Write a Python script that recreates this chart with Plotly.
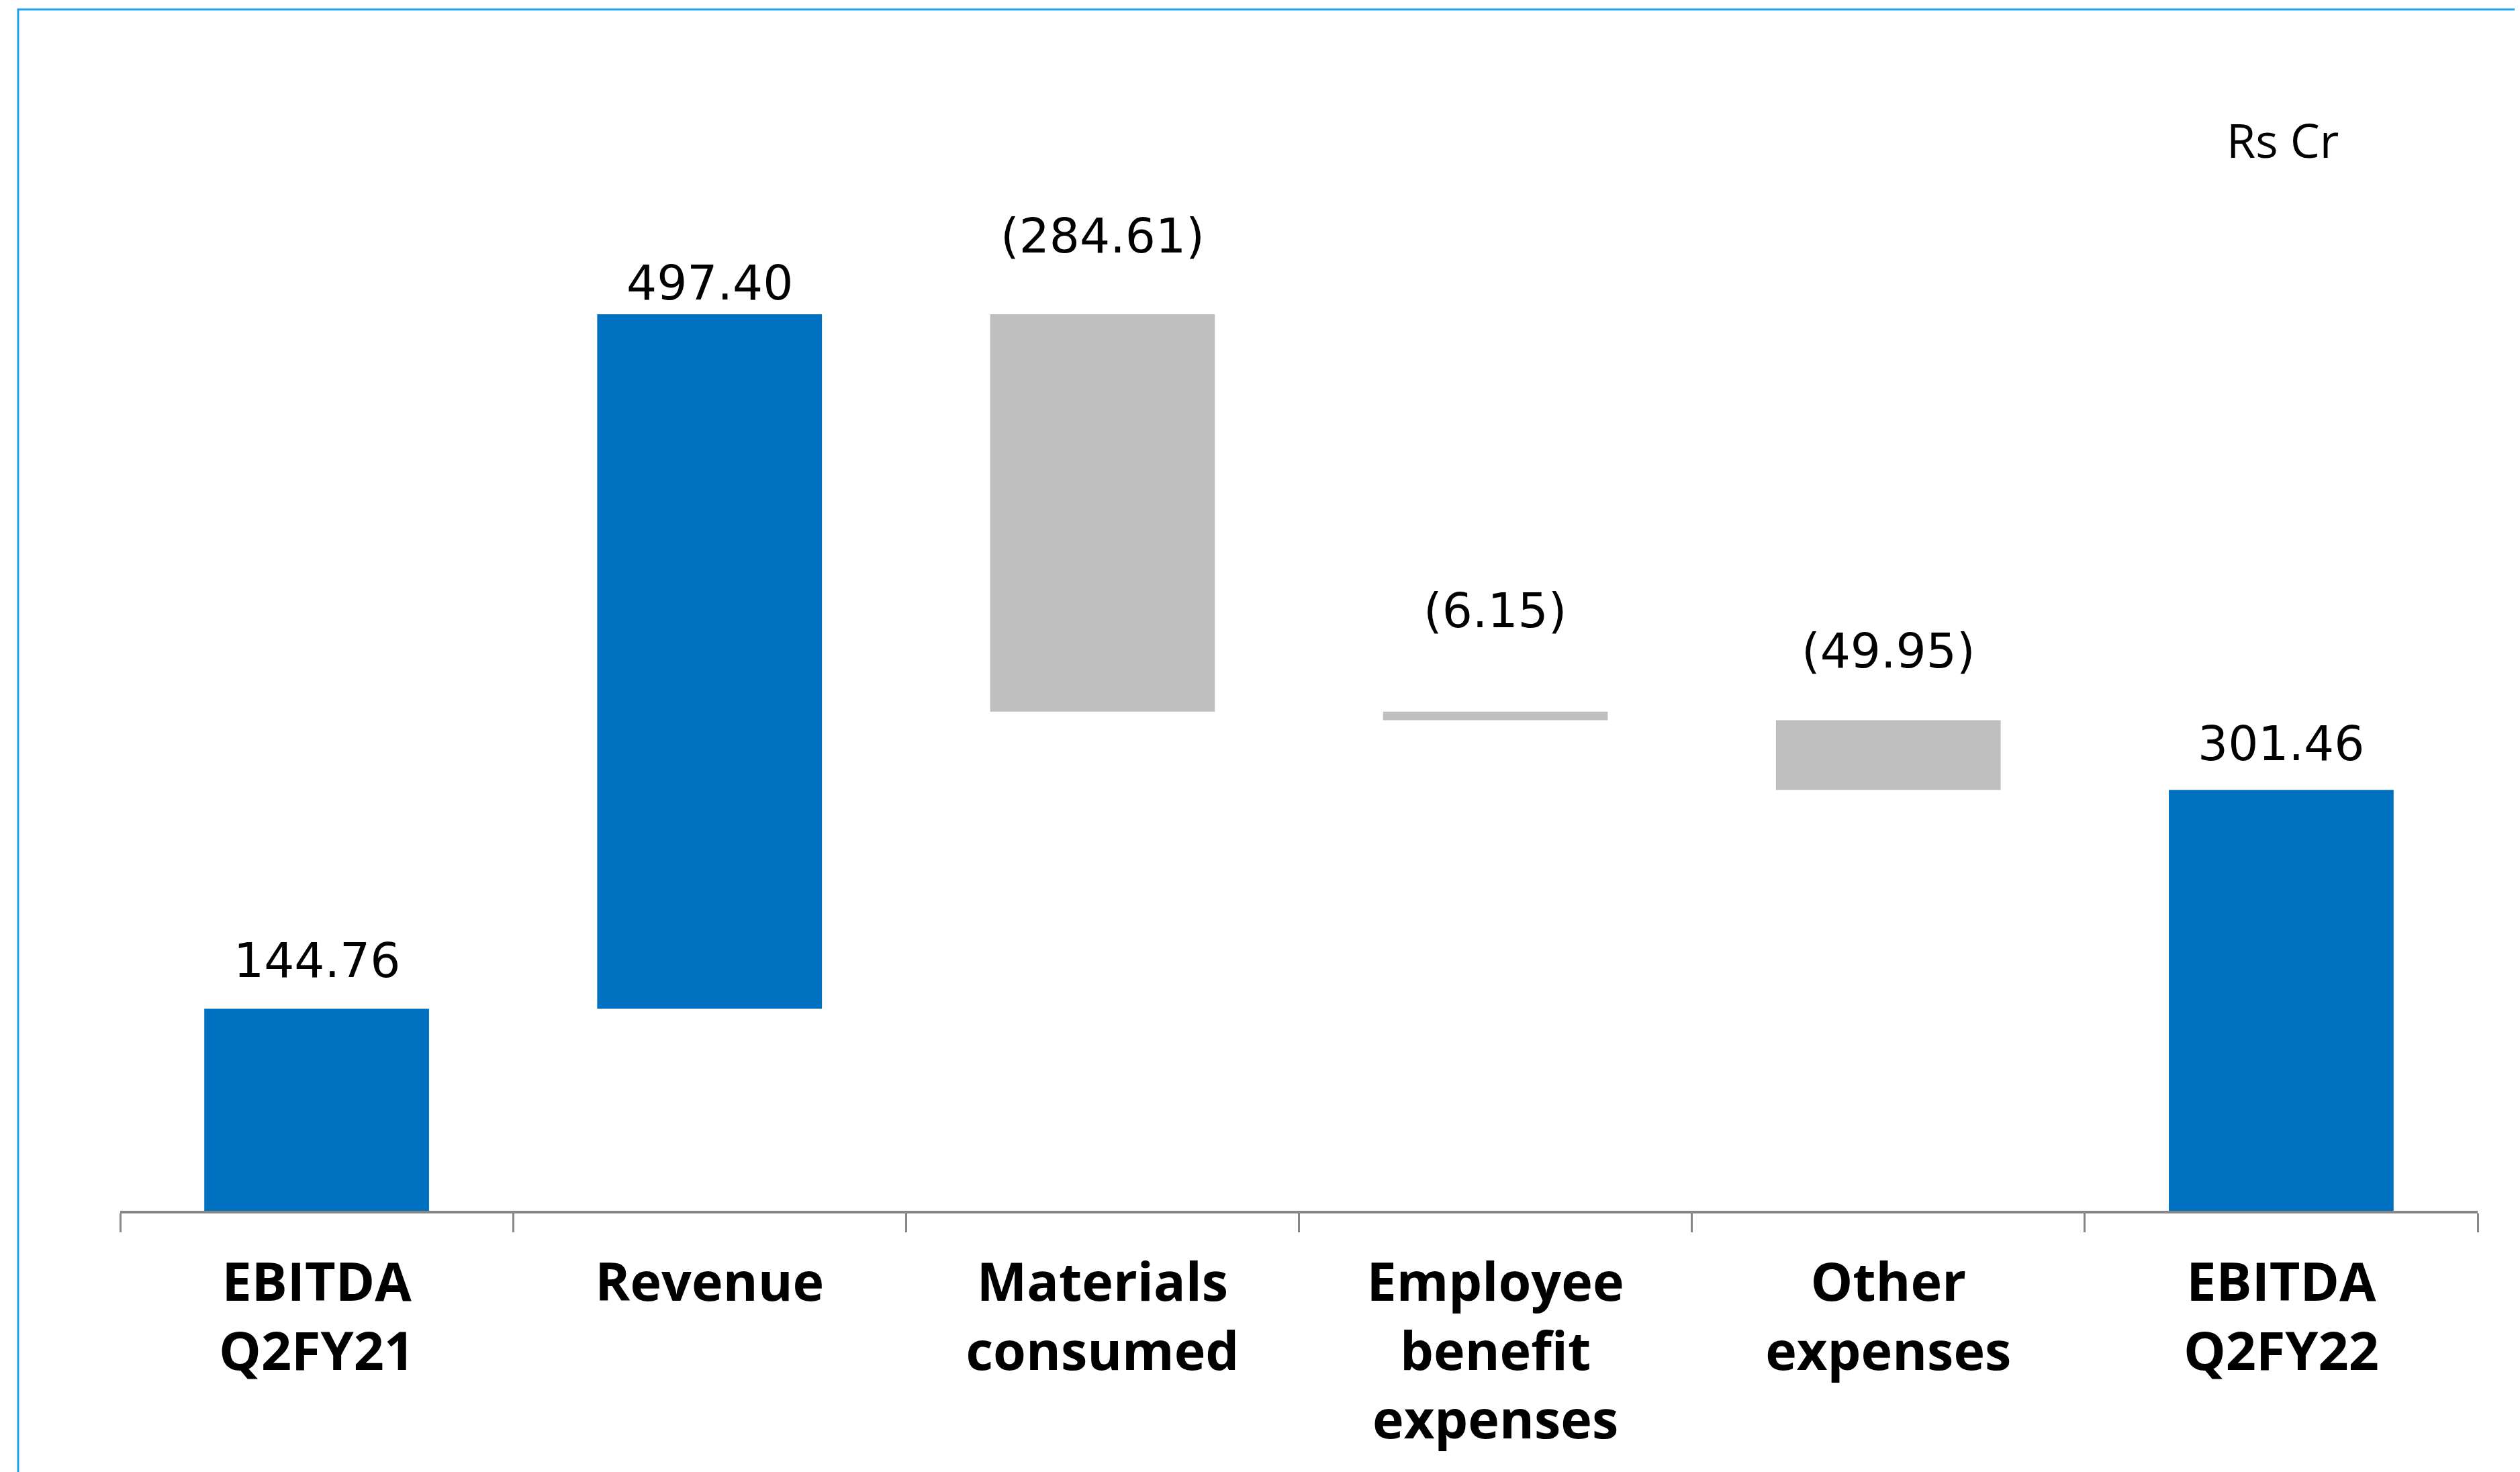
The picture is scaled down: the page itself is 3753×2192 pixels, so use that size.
import plotly.graph_objects as go

# ---- data ----
categories = ["EBITDA<br>Q2FY21", "Revenue", "Materials<br>consumed",
              "Employee<br>benefit<br>expenses", "Other<br>expenses", "EBITDA<br>Q2FY22"]
values = [144.76, 497.40, -284.61, -6.15, -49.95, 301.46]
measures = ["absolute", "relative", "relative", "relative", "relative", "absolute"]
value_labels = ["144.76", "497.40", "(284.61)", "(6.15)", "(49.95)", "301.46"]
unit_label = "Rs Cr"

# ---- style ----
BLUE = "#0070C0"
GREY = "#BFBFBF"
label_offsets_px = [72, 47, 117, 150, 103, 69]

# compute waterfall bases/heights from the values
bases, heights, colors, tops = [], [], [], []
running = 0.0
for v, m in zip(values, measures):
    if m == "absolute":
        start, end = 0.0, v
        running = v
        colors.append(BLUE)
    else:
        start, end = running, running + v
        running = end
        colors.append(BLUE if v >= 0 else GREY)
    bases.append(min(start, end))
    heights.append(abs(end - start))
    tops.append(max(start, end))

fig = go.Figure()
fig.add_trace(go.Bar(
    x=categories, y=heights, base=bases,
    marker=dict(color=colors, line=dict(width=0)),
    hoverinfo="skip", showlegend=False,
))

for cat, top, lab, off in zip(categories, tops, value_labels, label_offsets_px):
    fig.add_annotation(x=cat, y=top, text=lab, showarrow=False,
                       xanchor="center", yanchor="middle", yshift=off,
                       font=dict(family="DejaVu Sans", size=71, color="#000000"))

fig.add_annotation(xref="paper", yref="paper", x=0.9174, y=0.9371, text=unit_label,
                   showarrow=False, xanchor="center", yanchor="middle",
                   font=dict(family="Open Sans", size=70, color="#000000"))

# slide-style border (top and left edges)
fig.add_shape(type="path", xref="paper", yref="paper",
              path="M -0.0433 -0.25 L -0.0433 1.0511 L 1.03 1.0511",
              line=dict(color="#1DA1E8", width=3), layer="above")

fig.update_layout(
    width=3753, height=2192,
    margin=dict(l=171, r=71, t=93, b=397, pad=0),
    paper_bgcolor="white", plot_bgcolor="white",
    bargap=0.428,
    xaxis=dict(
        type="category", tickson="boundaries", ticks="outside", ticklen=28,
        tickwidth=3, tickcolor="#868686", showline=True, linecolor="#868686",
        linewidth=4, showgrid=False, range=[-0.5, 5.5],
        tickfont=dict(family="Open Sans", size=79, color="#000000", weight="bold"),
        ticklabelstandoff=35,
    ),
    yaxis=dict(range=[0, 818.7], visible=False, showgrid=False, zeroline=False),
)

fig.write_html("out.html")
